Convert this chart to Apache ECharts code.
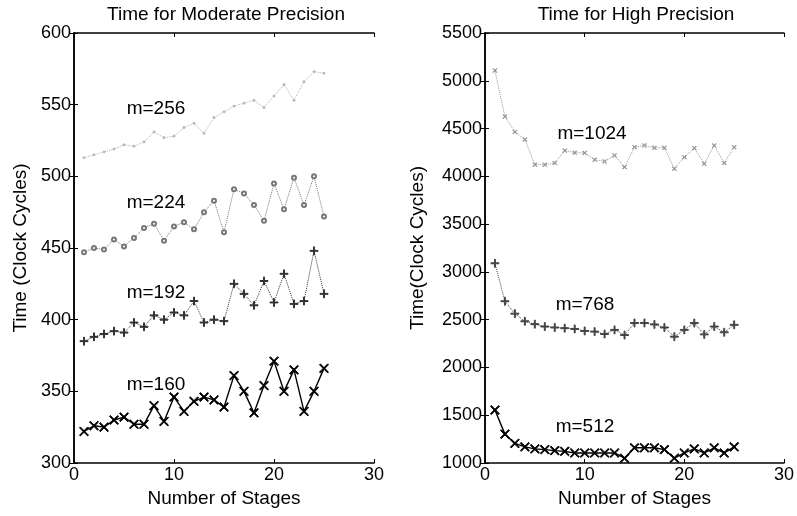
<!DOCTYPE html>
<html><head><meta charset="utf-8">
<script src="https://cdn.jsdelivr.net/npm/echarts@6/dist/echarts.min.js"></script>
<style>html,body{margin:0;padding:0;background:#fff}#c{width:797px;height:516px}</style>
</head><body><div id="c"></div>
<script>
const stages = [1,2,3,4,5,6,7,8,9,10,11,12,13,14,15,16,17,18,19,20,21,22,23,24,25];
const leftTicks = [300,350,400,450,500,550,600];
const rightTicks = [1000,1500,2000,2500,3000,3500,4000,4500,5000,5500];
const xTicks = [0,10,20,30];

const m256 = [513,515,517,519,522,521,524,531,527,528,534,537,530,541,545,549,551,553,548,556,564,553,566,573,572];
const m224 = [447,450,449,456,451,457,464,467,455,465,468,463,475,483,461,491,488,480,469,495,477,499,480,500,472];
const m192 = [385,388,390,392,391,398,395,403,400,405,403,413,398,400,399,425,418,410,427,412,432,411,413,448,418];
const m160 = [322,326,325,330,332,327,327,340,329,346,336,343,346,344,339,361,350,335,354,371,350,365,336,350,366];

const m1024 = [5107,4626,4465,4385,4122,4122,4140,4270,4247,4245,4174,4156,4219,4097,4305,4323,4299,4299,4080,4201,4295,4132,4323,4140,4305];
const m768 = [3090,2693,2563,2483,2453,2428,2418,2411,2403,2382,2375,2350,2393,2339,2465,2465,2450,2418,2322,2393,2465,2346,2428,2368,2446];
const m512 = [1554,1302,1205,1169,1148,1140,1130,1122,1105,1105,1105,1105,1105,1050,1159,1159,1159,1140,1051,1105,1148,1105,1159,1105,1169];

const pair = arr => stages.map((s,i)=>[s,arr[i]]);
const FONT = '"Liberation Sans", Arial, sans-serif';
const PLUS = 'path://M4.4,0h1.2v10h-1.2z M0,4.4h10v1.2h-10z';
const CROSS = 'path://M0,0.9L0.9,0L10,9.1L9.1,10Z M9.1,0L10,0.9L0.9,10L0,9.1Z';

function xAx(gi, pos, show){
  return {type:'value', gridIndex:gi, position:pos, min:xTicks[0], max:xTicks[xTicks.length-1], interval:10,
    name: show ? 'Number of Stages' : '', nameLocation:'middle', nameGap:25,
    nameTextStyle:{fontFamily:FONT,fontSize:19,color:'#000'},
    axisLine:{show:true,lineStyle:{color:'#000',width:1.5}},
    axisTick:{show:true,inside:true,length:4,lineStyle:{color:'#000'}},
    axisLabel:{show:show,fontFamily:FONT,fontSize:18,color:'#000',margin:3,formatter:v=>String(v)},
    splitLine:{show:false}};
}
function yAx(gi, pos, show, ticks, name){
  return {type:'value', gridIndex:gi, position:pos, min:ticks[0], max:ticks[ticks.length-1], interval:ticks[1]-ticks[0],
    name: show ? name : '', nameLocation:'middle', nameGap: gi===0?44:58, nameRotate:90,
    nameTextStyle:{fontFamily:FONT,fontSize:19,color:'#000'},
    axisLine:{show:true,lineStyle:{color:'#000',width:1.5}},
    axisTick:{show:true,inside:true,length:4,lineStyle:{color:'#000'}},
    axisLabel:{show:show,fontFamily:FONT,fontSize:18,color:'#000',margin:3,formatter:v=>String(v)},
    splitLine:{show:false}};
}
function ser(xi, yi, arr, color, type, width, symbol, size){
  return {type:'line', xAxisIndex:xi, yAxisIndex:yi, data:pair(arr), symbol:symbol, symbolSize:size,
    lineStyle:{color:color,type:type,width:width}, itemStyle:{color:color, borderColor:color, borderWidth:1},
    showSymbol:true, animation:false, z:3};
}
function label(x,y,t){
  return {type:'text', x:x, y:y, style:{text:t, font:'19px '+FONT, fill:'#000', textAlign:'center', textVerticalAlign:'middle'}};
}

const chart = echarts.init(document.getElementById('c'), null, {renderer:'canvas'});
chart.setOption({
  backgroundColor:'#fff',
  animation:false,
  grid:[{left:74, top:33, width:300, height:430, containLabel:false},
        {left:485, top:33, width:302, height:430, containLabel:false}],
  xAxis:[xAx(0,'bottom',true), xAx(0,'top',false), xAx(1,'bottom',true), xAx(1,'top',false)],
  yAxis:[yAx(0,'left',true,leftTicks,'Time (Clock Cycles)'), yAx(0,'right',false,leftTicks,''),
         yAx(1,'left',true,rightTicks,'Time(Clock Cycles)'), yAx(1,'right',false,rightTicks,'')],
  series:[
    ser(0,0,m256,'#b5b5b5','dotted',1,'circle',2),
    ser(0,0,m224,'#777','dotted',1,'emptyCircle',4),
    ser(0,0,m192,'#333','dotted',1,PLUS,8),
    ser(0,0,m160,'#000','solid',1.4,CROSS,9),
    ser(2,2,m1024,'#999','dotted',1,CROSS,4),
    ser(2,2,m768,'#444','dotted',1,PLUS,8),
    ser(2,2,m512,'#000','solid',1.4,CROSS,9)
  ],
  graphic:[
    label(226,15,'Time for Moderate Precision'),
    label(636,15,'Time for High Precision'),
    label(156,109,'m=256'),
    label(156,203,'m=224'),
    label(156,293,'m=192'),
    label(156,385,'m=160'),
    label(592,134,'m=1024'),
    label(585,305,'m=768'),
    label(585,427,'m=512')
  ]
});
</script></body></html>
